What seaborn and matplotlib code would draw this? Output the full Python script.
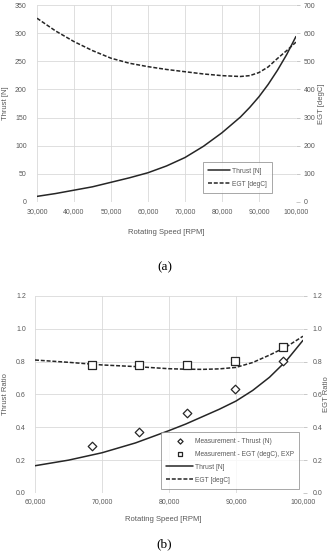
import numpy as np
import pandas as pd
import seaborn as sns
import matplotlib.pyplot as plt
from matplotlib.ticker import FuncFormatter

# (a) 回転数ごとの推力と排気温度
rpm_a = [30000, 35000, 40000, 45000, 50000, 55000, 60000, 65000, 70000,
         75000, 80000, 85000, 87500, 90000, 92500, 95000, 97500, 100000]
thrust_a = [10, 15, 21, 27, 35, 43, 52, 64, 79,
            99, 123, 151, 168, 187, 209, 234, 262, 294]
egt_a = [653, 608, 570, 538, 511, 493, 481, 471, 463,
         455, 449, 446, 449, 460, 480, 510, 538, 568]

# (b) 比で表した推力と排気温度、計測値
rpm_b = [60000, 65000, 70000, 75000, 80000, 82500, 85000, 87500,
         90000, 92500, 95000, 97500, 100000]
thrust_ratio = [0.166, 0.20, 0.245, 0.305, 0.38, 0.42, 0.465, 0.51,
                0.56, 0.625, 0.705, 0.805, 0.93]
egt_ratio = [0.81, 0.796, 0.78, 0.77, 0.757, 0.754, 0.753, 0.756,
             0.765, 0.795, 0.84, 0.89, 0.955]

rpm_meas = [68500, 75500, 82700, 89900, 97000]
thrust_meas = [0.286, 0.373, 0.489, 0.632, 0.806]
egt_meas = [0.78, 0.78, 0.777, 0.806, 0.89]

sns.set_theme(style="white")
plt.rcParams["font.family"] = ["Liberation Sans", "DejaVu Sans"]

ink = "#262626"
grey = "#595959"
grid = "#d9d9d9"
dash = (0, (2.6, 1.2))

fig = plt.figure(figsize=(3.29, 5.51), dpi=100)

comma = FuncFormatter(lambda v, p: f"{v:,.0f}")


def style_axes(ax, axr):
    for a in (ax, axr):
        for s in a.spines.values():
            s.set_visible(False)
    ax.grid(True, color=grid, lw=0.6)
    ax.set_axisbelow(True)
    ax.tick_params(axis="both", length=0, labelsize=5, labelcolor=grey)
    ax.tick_params(axis="y", pad=7.5)
    ax.tick_params(axis="x", pad=4)
    axr.tick_params(axis="y", length=3, width=0.6, color="#bfbfbf",
                    labelsize=5, labelcolor=grey, pad=2.5)
    axr.grid(False)
    ax.xaxis.set_major_formatter(comma)


# ---- (a)
ax1 = fig.add_axes([0.1125, 0.6334, 0.787, 0.3575])
ax1r = ax1.twinx()
sns.lineplot(x=rpm_a, y=thrust_a, ax=ax1, color=ink, lw=1.1, label="Thrust [N]", legend=False)
sns.lineplot(x=rpm_a, y=egt_a, ax=ax1r, color=ink, lw=1.1, linestyle=dash,
             label="EGT [degC]", legend=False)
ax1.set_xlim(30000, 100000)
ax1.set_ylim(0, 350)
ax1r.set_ylim(0, 700)
ax1.set_xticks(np.arange(30000, 100001, 10000))
ax1.set_yticks(np.arange(0, 351, 50))
ax1r.set_yticks(np.arange(0, 701, 100))
style_axes(ax1, ax1r)
ax1.set_xlabel("Rotating Speed [RPM]", fontsize=5.5, color=grey)
ax1.set_ylabel("Thrust [N]", fontsize=5.5, color=grey)
ax1r.set_ylabel("EGT [degC]", fontsize=5.5, color=grey)
ax1.xaxis.set_label_coords(0.5, -0.137)
ax1.yaxis.set_label_coords(-0.109, 0.5)
ax1r.yaxis.set_label_coords(1.085, 0.5)

h = ax1.get_lines()[:1] + ax1r.get_lines()[:1]
leg = ax1r.legend(handles=h, loc="lower left", bbox_to_anchor=(0.641, 0.046),
                  borderaxespad=0, fontsize=4.8, frameon=True, fancybox=False,
                  edgecolor="#7f7f7f", handlelength=3.2, handletextpad=0.3,
                  labelspacing=0.9, borderpad=0.8)
leg.get_frame().set_linewidth(0.6)
for t in leg.get_texts():
    t.set_color(grey)

fig.text(164.5 / 329, 1 - 267 / 551, "(a)", ha="center", va="center",
         family="Liberation Serif", fontsize=9.5, color="black")

# ---- (b)
ax2 = fig.add_axes([0.1064, 0.1053, 0.8146, 0.3575])
ax2r = ax2.twinx()
sns.scatterplot(x=rpm_meas, y=thrust_meas, ax=ax2, marker="D", s=19, color="white",
                edgecolor=ink, linewidth=0.9, label="Measurement - Thrust (N)",
                legend=False, zorder=3)
sns.scatterplot(x=rpm_meas, y=egt_meas, ax=ax2r, marker="s", s=26, color="white",
                edgecolor=ink, linewidth=0.9, label="Measurement - EGT (degC), EXP",
                legend=False, zorder=3)
sns.lineplot(x=rpm_b, y=thrust_ratio, ax=ax2, color=ink, lw=1.1, label="Thrust [N]", legend=False)
sns.lineplot(x=rpm_b, y=egt_ratio, ax=ax2r, color=ink, lw=1.1, linestyle=dash,
             label="EGT [degC]", legend=False)
ax2.set_xlim(60000, 100000)
ax2.set_ylim(0, 1.2)
ax2r.set_ylim(0, 1.2)
ax2.set_xticks(np.arange(60000, 100001, 10000))
ax2.set_yticks(np.arange(0, 1.21, 0.2))
ax2r.set_yticks(np.arange(0, 1.21, 0.2))
style_axes(ax2, ax2r)
ax2.tick_params(axis="y", pad=6.5)
ax2r.tick_params(axis="y", pad=4)
dec = FuncFormatter(lambda v, p: f"{v:.1f}")
ax2.yaxis.set_major_formatter(dec)
ax2r.yaxis.set_major_formatter(dec)
ax2.set_xlabel("Rotating Speed [RPM]", fontsize=5.5, color=grey)
ax2.set_ylabel("Thrust Ratio", fontsize=5.5, color=grey)
ax2r.set_ylabel("EGT Ratio", fontsize=5.5, color=grey)
ax2.xaxis.set_label_coords(0.48, -0.117)
ax2.yaxis.set_label_coords(-0.098, 0.5)
ax2r.yaxis.set_label_coords(1.075, 0.5)

h2 = ax2.collections[:1] + ax2r.collections[:1] + ax2.get_lines()[:1] + ax2r.get_lines()[:1]
leg2 = ax2r.legend(handles=h2, loc="lower left", bbox_to_anchor=(0.47, 0.02),
                   borderaxespad=0, fontsize=4.8, frameon=True, fancybox=False,
                   edgecolor="#7f7f7f", handlelength=4.0, handletextpad=0.3,
                   labelspacing=0.9, borderpad=0.8, markerscale=0.6)
leg2.get_frame().set_linewidth(0.6)
for t in leg2.get_texts():
    t.set_color(grey)

fig.text(164.5 / 329, 1 / 551, "(b)", ha="center", va="bottom",
         family="Liberation Serif", fontsize=9.5, color="black")

fig.savefig("out.png", dpi=100)
